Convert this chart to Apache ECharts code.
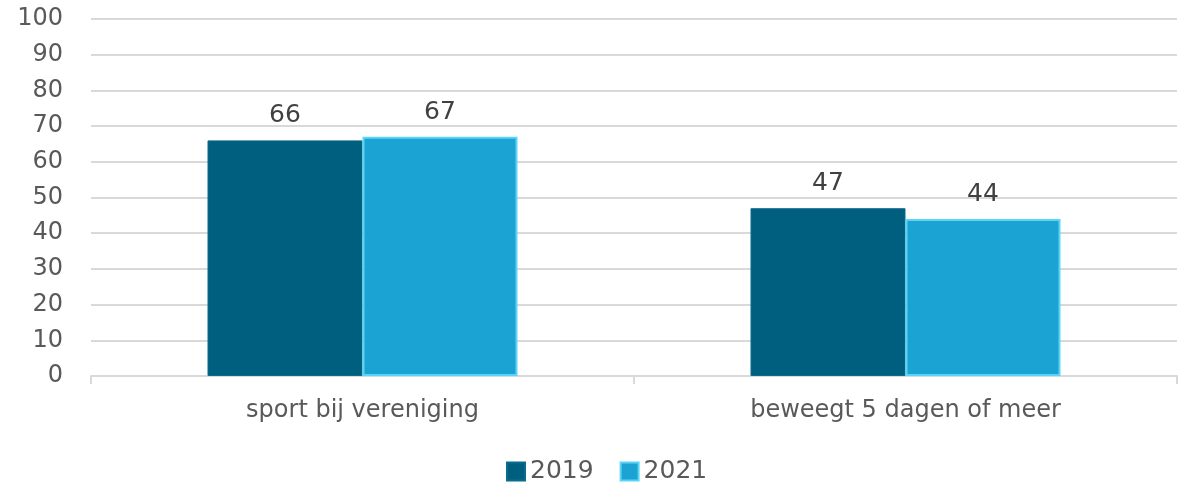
<!DOCTYPE html>
<html><head><meta charset="utf-8">
<script src="https://cdn.jsdelivr.net/npm/echarts@6/dist/echarts.min.js"></script>
<style>html,body{margin:0;padding:0;background:#fff}#c{width:1181px;height:484px}</style>
</head><body><div id="c"></div>
<script>
const categories = ['sport bij vereniging', 'beweegt 5 dagen of meer'];
const seriesNames = ['2019', '2021'];
const values2019 = [66, 47];
const values2021 = [67, 44];
const yTicks = {min: 0, max: 100, interval: 10};

const font = "'DejaVu Sans', Verdana, sans-serif";
const chart = echarts.init(document.getElementById('c'));
chart.setOption({
  animation: false,
  grid: {left: 91, right: 4, top: 19, bottom: 108, containLabel: false},
  legend: {
    top: 454, left: 501, itemWidth: 18, itemHeight: 18, itemGap: 26,
    icon: 'rect',
    textStyle: {fontFamily: font, fontSize: 25, color: '#595959'},
    data: seriesNames
  },
  xAxis: {
    type: 'category', data: categories,
    axisLine: {lineStyle: {color: '#d9d9d9', width: 2}},
    axisTick: {show: true, length: 8, lineStyle: {color: '#d9d9d9', width: 2}},
    axisLabel: {fontFamily: font, fontSize: 24, color: '#595959', margin: 23}
  },
  yAxis: {
    type: 'value', min: yTicks.min, max: yTicks.max, interval: yTicks.interval,
    axisLine: {show: false}, axisTick: {show: false},
    splitLine: {lineStyle: {color: '#d9d9d9', width: 2}},
    axisLabel: {fontFamily: font, fontSize: 24, color: '#595959', margin: 28}
  },
  series: [
    {name: seriesNames[0], type: 'bar', data: values2019, barWidth: 155, barGap: '0%',
     itemStyle: {color: '#005E7E', borderColor: '#0A6C8C', borderWidth: 1},
     label: {show: true, position: 'top', distance: 12, fontFamily: font, fontSize: 25, color: '#404040'}},
    {name: seriesNames[1], type: 'bar', data: values2021, barWidth: 155, barGap: '0%',
     itemStyle: {color: '#1BA3D4', borderColor: '#5CD4F5', borderWidth: 2},
     label: {show: true, position: 'top', distance: 12, fontFamily: font, fontSize: 25, color: '#404040'}}
  ]
});
</script></body></html>
